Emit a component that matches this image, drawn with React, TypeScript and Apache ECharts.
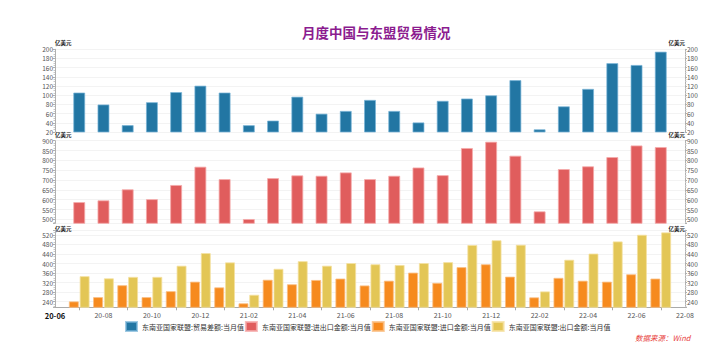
import React, { useEffect, useRef } from 'react';
import * as echarts from 'echarts';

const months = [
  '20-06', '20-07', '20-08', '20-09', '20-10', '20-11', '20-12',
  '21-01', '21-02', '21-03', '21-04', '21-05', '21-06', '21-07', '21-08', '21-09', '21-10', '21-11', '21-12',
  '22-01', '22-02', '22-03', '22-04', '22-05', '22-06', '22-07', '22-08',
];

const seriesNames = [
  '东南亚国家联盟:贸易差额:当月值',
  '东南亚国家联盟:进出口金额:当月值',
  '东南亚国家联盟:进口金额:当月值',
  '东南亚国家联盟:出口金额:当月值',
];

const balance = [null, 106, 80, 35, 85, 107, 121, 106, 35, 45, 97, 60, 66, 90, 66, 41, 88, 93, 100, 133, 26, 76, 114, 170, 166, 195, null];
const total = [null, 588, 597, 653, 603, 675, 768, 705, 502, 710, 724, 722, 739, 705, 722, 764, 725, 863, 895, 824, 541, 756, 770, 817, 876, 868, null];
const imports = [null, 241, 259, 309, 259, 284, 324, 300, 233, 332, 313, 331, 337, 308, 328, 362, 319, 385, 397, 345, 258, 340, 328, 324, 355, 337, null];
const exportsV = [null, 347, 338, 344, 344, 391, 444, 405, 269, 378, 410, 391, 402, 397, 394, 402, 406, 478, 498, 479, 283, 416, 442, 493, 521, 531, null];

const titleText = '月度中国与东盟贸易情况';
const unitName = '亿美元';
const sourceText = '数据来源：Wind';

const colors = ['#2276a3', '#e05d5d', '#f68a1e', '#e3c656'];
const borders = ['rgba(120,180,215,0.7)', 'rgba(245,170,170,0.8)', 'rgba(250,190,130,0.8)', 'rgba(245,225,160,0.8)'];

const FONT = '"Noto Sans CJK SC", "Noto Sans", sans-serif';

function yAxis(gridIndex: number, min: number, max: number, step: number, position: 'left' | 'right', nameGap: number) {
  return {
    type: 'value',
    gridIndex,
    position,
    min,
    max,
    minInterval: step,
    maxInterval: step,
    name: unitName,
    nameLocation: 'end',
    nameGap,
    nameTextStyle: {
      fontSize: 5.5,
      color: '#222',
      fontWeight: 'bold',
      align: position === 'left' ? 'left' : 'right',
      verticalAlign: 'middle',
      fontFamily: FONT,
    },
    axisLine: { show: true, lineStyle: { color: '#b0b0b0', width: 1 } },
    axisTick: { show: true, length: 2, lineStyle: { color: '#b0b0b0' } },
    minorTick: { show: true, splitNumber: 4, length: 1.5, lineStyle: { color: '#c8c8c8' } },
    axisLabel: {
      fontSize: 6.5,
      color: '#555',
      margin: 2,
      fontFamily: FONT,
      formatter: (v: number) => (Math.abs(v % step) < 1e-6 ? String(v) : ''),
    },
    splitLine: { show: position === 'left', lineStyle: { color: '#f3f3f3' } },
  };
}

function xAxis(gridIndex: number, visible: boolean) {
  return {
    type: 'category',
    gridIndex,
    data: months,
    boundaryGap: false,
    axisLine: { show: visible, lineStyle: { color: '#aaa' } },
    axisTick: {
      show: visible,
      length: 3,
      interval: (i: number) => i % 2 === 1,
      lineStyle: { color: '#aaa' },
    },
    axisLabel: {
      show: visible,
      interval: (i: number) => i % 2 === 0,
      fontSize: 7,
      color: '#555',
      margin: 4,
      fontFamily: FONT,
      formatter: (v: string, i: number) => (i === 0 ? `{b|${v}}` : v),
      rich: { b: { fontSize: 7.5, fontWeight: 'bold', color: '#111', fontFamily: FONT } },
    },
    splitLine: { show: false },
  };
}

export default function App() {
  const ref = useRef<HTMLDivElement>(null);
  useEffect(() => {
    const chart = echarts.init(ref.current!, null, { renderer: 'svg' });
    const option: any = {
      animation: false,
      backgroundColor: '#fff',
      textStyle: { fontFamily: FONT },
      title: {
        text: titleText,
        left: 297,
        top: 20,
        textStyle: { fontSize: 13.5, fontWeight: 'bold', color: '#8b1c8f', fontFamily: FONT },
      },
      legend: {
        left: 120,
        top: 316,
        itemWidth: 11,
        itemHeight: 9,
        itemGap: 1,
        icon: 'rect',
        data: seriesNames,
        textStyle: { fontSize: 7, color: '#333', fontFamily: FONT },
      },
      graphic: [
        {
          type: 'text',
          left: 635,
          top: 334,
          style: { text: sourceText, fill: '#e8413d', fontSize: 7.5, fontStyle: 'italic', fontFamily: FONT },
        },
      ],
      grid: [
        { left: 55, right: 41, top: 49.3, height: 82.7 },
        { left: 55, right: 41, top: 140.7, height: 82.6 },
        { left: 55, right: 41, top: 230.2, height: 77.1 },
      ],
      xAxis: [xAxis(0, false), xAxis(1, false), xAxis(2, true)],
      yAxis: [
        yAxis(0, 20, 200, 20, 'left', -6),
        yAxis(0, 20, 200, 20, 'right', -6),
        yAxis(1, 480, 900, 50, 'left', 0),
        yAxis(1, 480, 900, 50, 'right', 0),
        yAxis(2, 216, 540, 40, 'left', 0),
        yAxis(2, 216, 540, 40, 'right', 0),
      ],
      series: [
        {
          name: seriesNames[0], type: 'bar', xAxisIndex: 0, yAxisIndex: 0, data: balance, barWidth: 12,
          itemStyle: { color: colors[0], borderColor: borders[0], borderWidth: 1 },
        },
        {
          name: seriesNames[1], type: 'bar', xAxisIndex: 1, yAxisIndex: 2, data: total, barWidth: 12,
          itemStyle: { color: colors[1], borderColor: borders[1], borderWidth: 1 },
        },
        {
          name: seriesNames[2], type: 'bar', xAxisIndex: 2, yAxisIndex: 4, data: imports, barWidth: 10, barGap: '8%',
          itemStyle: { color: colors[2], borderColor: borders[2], borderWidth: 1 },
        },
        {
          name: seriesNames[3], type: 'bar', xAxisIndex: 2, yAxisIndex: 4, data: exportsV, barWidth: 10, barGap: '8%',
          itemStyle: { color: colors[3], borderColor: borders[3], borderWidth: 1 },
        },
      ],
    };
    chart.setOption(option);
    return () => chart.dispose();
  }, []);
  return <div ref={ref} style={{ position: 'fixed', left: 0, top: 0, width: 726, height: 352 }} />;
}
